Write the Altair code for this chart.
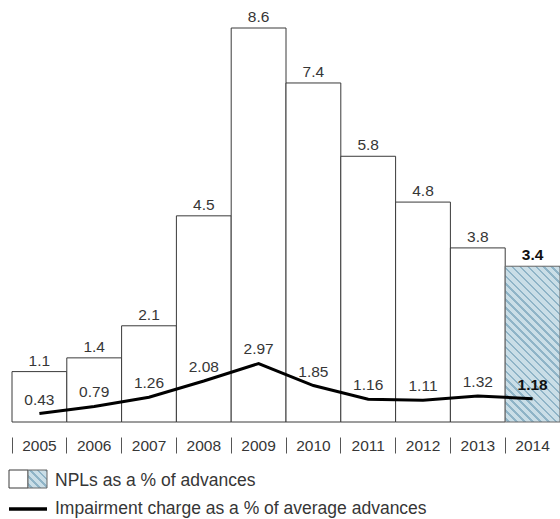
import altair as alt
import pandas as pd

# ---- data -------------------------------------------------------------
years = ["2005", "2006", "2007", "2008", "2009", "2010", "2011", "2012", "2013", "2014"]
npl_ratio = [1.1, 1.4, 2.1, 4.5, 8.6, 7.4, 5.8, 4.8, 3.8, 3.4]
impairment_ratio = [0.43, 0.79, 1.26, 2.08, 2.97, 1.85, 1.16, 1.11, 1.32, 1.18]
latest_year = "2014"

legend_npl = ["NPLs as a % of advances"]
legend_impairment = ["Impairment charge as a % of average advances"]

df = pd.DataFrame({"year": years, "npl": npl_ratio, "impairment": impairment_ratio})

# ---- geometry / style ---------------------------------------------------
W, H = 548, 394
NPL_MAX = 8.6          # top of the bar scale
LINE_MAX = 20.0        # top of the line scale
FONT = "Liberation Sans"
TEXT = "#363636"
EDGE = "#3a3a3a"
HATCH_LIGHT = "#cadee7"
HATCH_DARK = "#8fb4c7"
LABEL_SIZE = 15.5
LEGEND_SIZE = 17.5


def hatch(w, h, period=5.6, dark=1.8):
    """Diagonal stripes as a hard-stop linear gradient over a w x h box."""
    a = w / h
    s = (a + 1) / (a * a + 1)
    span = (w + h) / 2 ** 0.5
    step, d = period / span, dark / span
    stops = [alt.GradientStop(offset=0, color=HATCH_LIGHT)]
    off = 0.0
    while True:
        a0 = off + (step - d) / 2
        if a0 >= 1:
            break
        a1 = min(a0 + d, 1)
        stops += [
            alt.GradientStop(offset=a0, color=HATCH_LIGHT),
            alt.GradientStop(offset=a0, color=HATCH_DARK),
            alt.GradientStop(offset=a1, color=HATCH_DARK),
            alt.GradientStop(offset=a1, color=HATCH_LIGHT),
        ]
        off += step
    stops.append(alt.GradientStop(offset=1, color=HATCH_LIGHT))
    return alt.Gradient(gradient="linear", x1=0, y1=1, x2=s * a, y2=1 - s, stops=stops)


band = W / len(years)
bar_px = H * npl_ratio[years.index(latest_year)] / NPL_MAX

x_enc = alt.X(
    "year:N",
    sort=years,
    scale=alt.Scale(paddingInner=0, paddingOuter=0),
    axis=alt.Axis(
        title=None, labelAngle=0, domain=False, ticks=True, tickSize=16,
        tickColor="#555555", tickWidth=1, bandPosition=0,
        offset=15, labelBaseline="middle", labelPadding=-8, labelFontSize=LABEL_SIZE,
        labelColor=TEXT, labelFont=FONT, grid=False,
    ),
)
y_bar = alt.Y("npl:Q", scale=alt.Scale(domain=[0, NPL_MAX], nice=False), axis=None)
y_line = alt.Y("impairment:Q", scale=alt.Scale(domain=[0, LINE_MAX], nice=False), axis=None)

base = alt.Chart(df)
is_latest = alt.datum.year == latest_year

bars = base.mark_bar(fill="white", stroke=EDGE, strokeWidth=1).encode(x=x_enc, y=y_bar).transform_filter(~is_latest)
bar_latest = base.mark_bar(fill=hatch(band, bar_px), stroke="#666666", strokeWidth=1).encode(
    x=x_enc, y=y_bar).transform_filter(is_latest)

bar_text = base.mark_text(baseline="bottom", dy=-3, fontSize=LABEL_SIZE, font=FONT, color=TEXT).encode(
    x=x_enc, y=y_bar, text=alt.Text("npl:Q", format=".1f")).transform_filter(~is_latest)
bar_text_latest = base.mark_text(baseline="bottom", dy=-3, fontSize=LABEL_SIZE, font=FONT, color="#111111",
                                 fontWeight="bold").encode(
    x=x_enc, y=y_bar, text=alt.Text("npl:Q", format=".1f")).transform_filter(is_latest)

line = base.mark_line(color="black", strokeWidth=3).encode(x=x_enc, y=y_line)
line_text = base.mark_text(baseline="middle", dy=-14, fontSize=LABEL_SIZE, font=FONT, color=TEXT).encode(
    x=x_enc, y=y_line, text=alt.Text("impairment:Q", format=".2f")).transform_filter(~is_latest)
line_text_latest = base.mark_text(baseline="middle", dy=-14, fontSize=LABEL_SIZE, font=FONT, color="#111111",
                                  fontWeight="bold").encode(
    x=x_enc, y=y_line, text=alt.Text("impairment:Q", format=".2f")).transform_filter(is_latest)

# ---- hand-drawn legend below the axis ----------------------------------
leg1 = alt.Chart(pd.DataFrame({"label": legend_npl}))
leg2 = alt.Chart(pd.DataFrame({"label": legend_impairment}))
sw_white = leg1.mark_rect(fill="white", stroke=EDGE, strokeWidth=1).encode(
    x=alt.value(-3), x2=alt.value(16), y=alt.value(442), y2=alt.value(460))
sw_hatch = leg1.mark_rect(fill=hatch(19, 18), stroke="#666666", strokeWidth=1).encode(
    x=alt.value(16), x2=alt.value(35), y=alt.value(442), y2=alt.value(460))
leg1_text = leg1.mark_text(align="left", baseline="middle", fontSize=LEGEND_SIZE, font=FONT, color=TEXT).encode(
    x=alt.value(43), y=alt.value(453), text="label:N")
sw_line = leg2.mark_rule(color="black", strokeWidth=3.5).encode(
    x=alt.value(-3), x2=alt.value(35), y=alt.value(481))
leg2_text = leg2.mark_text(align="left", baseline="middle", fontSize=LEGEND_SIZE, font=FONT, color=TEXT).encode(
    x=alt.value(43), y=alt.value(481), text="label:N")

chart = alt.layer(
    bars, bar_latest, bar_text, bar_text_latest,
    line, line_text, line_text_latest,
    sw_white, sw_hatch, leg1_text, sw_line, leg2_text,
).resolve_scale(y="independent").properties(
    width=W, height=H,
    autosize=alt.AutoSizeParams(type="none"),
    padding={"left": 12, "top": 28, "right": 0, "bottom": 97},
).configure_view(stroke=None)

chart.save("out.html", embed_options={"renderer": "svg", "actions": False})
